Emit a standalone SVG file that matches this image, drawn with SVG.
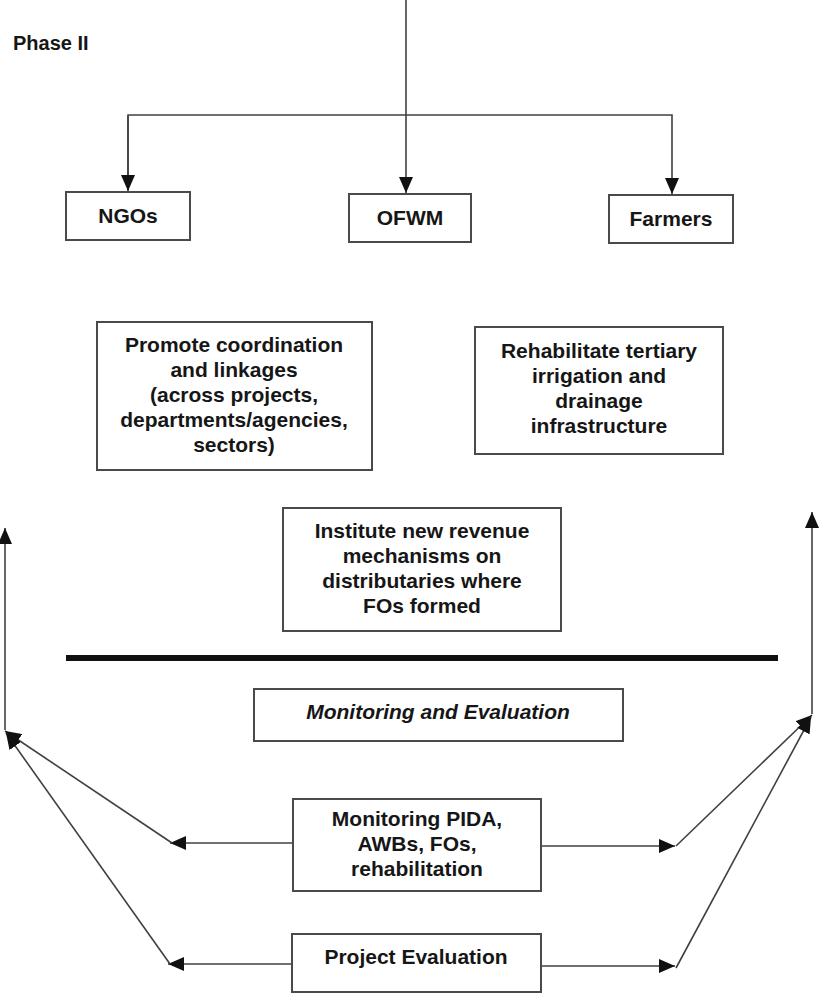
<svg xmlns="http://www.w3.org/2000/svg" width="822" height="1005" viewBox="0 0 822 1005">
  <style>
    .box { fill: #ffffff; stroke: #4a4a4a; stroke-width: 2; }
    .lbl { font-family: "Liberation Sans", Arial, sans-serif; font-weight: bold; font-size: 21px; fill: #161616; text-anchor: middle; }
    .em { font-style: italic; }
    .conn { fill: none; stroke: #404040; stroke-width: 1.6; }
  </style>
  <defs>
    <marker id="arrow" markerUnits="userSpaceOnUse" markerWidth="18" markerHeight="14" refX="16" refY="7" orient="auto">
      <path d="M0,0 L16,7 L0,14 Z" fill="#111111"/>
    </marker>
  </defs>

  <rect width="822" height="1005" fill="#ffffff"/>

  <text x="13" y="50" class="lbl" style="text-anchor:start;font-size:20px">Phase II</text>

  <g id="connectors">
    <!-- distribution from the top line -->
    <line class="conn" x1="406" y1="0" x2="406" y2="193" marker-end="url(#arrow)"/>
    <polyline class="conn" points="128,190 128,115 672,115 672,194" marker-end="url(#arrow)"/>
    <line class="conn" x1="128" y1="116" x2="128" y2="191" marker-end="url(#arrow)"/>
    <!-- feedback risers on both sides -->
    <line class="conn" x1="5" y1="730" x2="5" y2="528" marker-end="url(#arrow)"/>
    <line class="conn" x1="812" y1="714" x2="812" y2="512" marker-end="url(#arrow)"/>
    <!-- monitoring outputs -->
    <line class="conn" x1="293" y1="843" x2="170" y2="843" marker-end="url(#arrow)"/>
    <line class="conn" x1="172" y1="843" x2="5" y2="731" marker-end="url(#arrow)"/>
    <line class="conn" x1="292" y1="964" x2="168" y2="964" marker-end="url(#arrow)"/>
    <line class="conn" x1="170" y1="964" x2="6" y2="733" marker-end="url(#arrow)"/>
    <line class="conn" x1="541" y1="846" x2="675" y2="846" marker-end="url(#arrow)"/>
    <line class="conn" x1="676" y1="846" x2="812" y2="715" marker-end="url(#arrow)"/>
    <line class="conn" x1="541" y1="966" x2="675" y2="966" marker-end="url(#arrow)"/>
    <line class="conn" x1="676" y1="968" x2="811" y2="717" marker-end="url(#arrow)"/>
  </g>

  <line x1="66" y1="658" x2="778" y2="658" stroke="#111111" stroke-width="6"/>

  <g id="ngos">
    <rect class="box" x="66" y="192" width="124" height="48"/>
    <text class="lbl" x="128" y="223">NGOs</text>
  </g>
  <g id="ofwm">
    <rect class="box" x="349" y="194" width="122" height="48"/>
    <text class="lbl" x="410" y="225">OFWM</text>
  </g>
  <g id="farmers">
    <rect class="box" x="609" y="195" width="124" height="48"/>
    <text class="lbl" x="671" y="226">Farmers</text>
  </g>

  <g id="coordination">
    <rect class="box" x="97" y="322" width="275" height="148"/>
    <text class="lbl" x="234" y="352">Promote coordination</text>
    <text class="lbl" x="234" y="377">and linkages</text>
    <text class="lbl" x="234" y="402">(across projects,</text>
    <text class="lbl" x="234" y="427">departments/agencies,</text>
    <text class="lbl" x="234" y="452">sectors)</text>
  </g>
  <g id="rehabilitate">
    <rect class="box" x="475" y="327" width="248" height="127"/>
    <text class="lbl" x="599" y="358">Rehabilitate tertiary</text>
    <text class="lbl" x="599" y="383">irrigation and</text>
    <text class="lbl" x="599" y="408">drainage</text>
    <text class="lbl" x="599" y="433">infrastructure</text>
  </g>
  <g id="revenue">
    <rect class="box" x="283" y="508" width="278" height="123"/>
    <text class="lbl" x="422" y="538">Institute new revenue</text>
    <text class="lbl" x="422" y="563">mechanisms on</text>
    <text class="lbl" x="422" y="588">distributaries where</text>
    <text class="lbl" x="422" y="613">FOs formed</text>
  </g>

  <g id="monitoring-evaluation">
    <rect class="box" x="254" y="689" width="369" height="52"/>
    <text class="lbl em" x="438" y="719">Monitoring and Evaluation</text>
  </g>
  <g id="monitoring-pida">
    <rect class="box" x="293" y="799" width="248" height="92"/>
    <text class="lbl" x="417" y="826">Monitoring PIDA,</text>
    <text class="lbl" x="417" y="851">AWBs, FOs,</text>
    <text class="lbl" x="417" y="876">rehabilitation</text>
  </g>
  <g id="project-evaluation">
    <rect class="box" x="292" y="934" width="249" height="58"/>
    <text class="lbl" x="416" y="964">Project Evaluation</text>
  </g>
</svg>
